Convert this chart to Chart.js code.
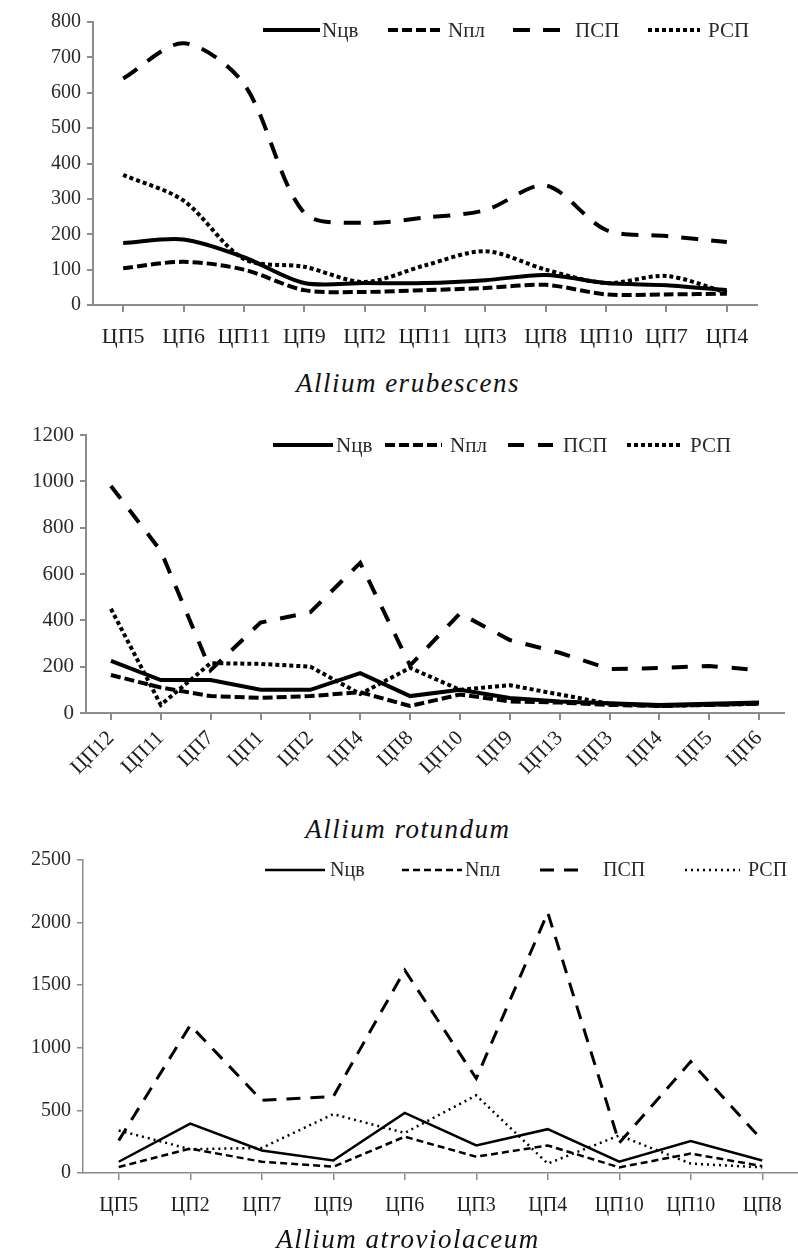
<!DOCTYPE html>
<html>
<head>
<meta charset="utf-8">
<script src="https://cdn.jsdelivr.net/npm/chart.js@4"></script>
<style>
    body { margin: 0; background: #fff; width: 798px; height: 1257px; position: relative; overflow: hidden; }
    .box { position: absolute; left: 0; width: 798px; }
    .species {
        position: absolute; left: 0; width: 816px; text-align: center;
        font-family: "Liberation Serif", "DejaVu Serif", serif; font-style: italic;
        font-size: 27px; letter-spacing: 1.5px; color: #111;
    }
</style>
</head>
<body>

<div class="box" style="top:0;height:360px"><canvas id="chart1"></canvas></div>
<div class="species" style="top:368px">Allium erubescens</div>

<div class="box" style="top:400px;height:410px"><canvas id="chart2"></canvas></div>
<div class="species" style="top:814px">Allium rotundum</div>

<div class="box" style="top:840px;height:390px"><canvas id="chart3"></canvas></div>
<div class="species" style="top:1224px">Allium atroviolaceum</div>

<script>
const seriesNames = ["Nцв", "Nпл", "ПСП", "РСП"];

// Allium erubescens
const labels1 = ["ЦП5", "ЦП6", "ЦП11", "ЦП9", "ЦП2", "ЦП11", "ЦП3", "ЦП8", "ЦП10", "ЦП7", "ЦП4"];
const ncv1 = [175, 185, 135, 62, 62, 62, 70, 85, 62, 56, 42];
const npl1 = [104, 122, 100, 42, 37, 42, 48, 57, 30, 30, 32];
const psp1 = [640, 740, 625, 260, 232, 247, 268, 338, 212, 195, 178];
const rsp1 = [368, 295, 130, 108, 65, 112, 152, 100, 62, 82, 35];
const yTicks1 = { min: 0, max: 800, step: 100 };

// Allium rotundum
const labels2 = ["ЦП12", "ЦП11", "ЦП7", "ЦП1", "ЦП2", "ЦП4", "ЦП8", "ЦП10", "ЦП9", "ЦП13", "ЦП3", "ЦП4", "ЦП5", "ЦП6"];
const ncv2 = [225, 142, 142, 100, 100, 172, 73, 100, 65, 50, 42, 35, 40, 45];
const npl2 = [164, 110, 73, 65, 73, 90, 30, 80, 50, 45, 35, 30, 35, 40];
const psp2 = [980, 700, 185, 390, 435, 648, 205, 430, 315, 260, 190, 194, 203, 185];
const rsp2 = [450, 35, 215, 212, 200, 82, 195, 100, 120, 80, 40, 30, 35, 40];
const yTicks2 = { min: 0, max: 1200, step: 200 };

// Allium atroviolaceum
const labels3 = ["ЦП5", "ЦП2", "ЦП7", "ЦП9", "ЦП6", "ЦП3", "ЦП4", "ЦП10", "ЦП10", "ЦП8"];
const ncv3 = [90, 395, 180, 100, 480, 220, 350, 90, 255, 100];
const npl3 = [48, 195, 90, 50, 290, 130, 220, 45, 155, 55];
const psp3 = [260, 1180, 580, 610, 1620, 755, 2080, 240, 890, 260];
const rsp3 = [340, 190, 200, 470, 320, 620, 75, 300, 75, 45];
const yTicks3 = { min: 0, max: 2500, step: 500 };

const SERIF = "'Liberation Serif', 'DejaVu Serif', serif";

// draws the legend inside the plot, with the same dash as each line
const insideLegend = {
    id: "insideLegend",
    afterDraw(chart, args, opts) {
        const ctx = chart.ctx;
        ctx.save();
        ctx.font = opts.size + "px " + SERIF;
        ctx.textBaseline = "middle";
        chart.data.datasets.forEach((ds, i) => {
            const slot = opts.slots[i];
            ctx.beginPath();
            ctx.setLineDash(ds.borderDash || []);
            ctx.lineWidth = ds.borderWidth;
            ctx.strokeStyle = ds.borderColor;
            ctx.moveTo(slot[0], opts.y);
            ctx.lineTo(slot[1], opts.y);
            ctx.stroke();
            ctx.setLineDash([]);
            ctx.fillStyle = "#2a2a2a";
            ctx.fillText(ds.label, slot[2], opts.y + 1);
        });
        ctx.restore();
    }
};

function makeChart(id, labels, series, yTicks, look) {

    const datasets = series.map((values, i) => ({
        label: seriesNames[i],
        data: values,
        borderColor: "#000",
        backgroundColor: "#000",
        borderWidth: look.widths[i],
        borderDash: look.dashes[i],
        borderCapStyle: "butt",
        pointRadius: 0,
        fill: false,
        tension: look.tension
    }));

    return new Chart(document.getElementById(id), {
        type: "line",
        data: { labels: labels, datasets: datasets },
        plugins: [insideLegend],
        options: {
            responsive: true,
            maintainAspectRatio: false,
            animation: false,
            layout: { padding: { top: look.top, right: look.right, left: 0, bottom: 0 } },
            plugins: {
                legend: { display: false },
                tooltip: { enabled: false },
                insideLegend: look.legend
            },
            scales: {
                x: {
                    offset: true,
                    border: { color: "#8c8c8c", width: look.axisWidth },
                    grid: { drawOnChartArea: false, color: "#8c8c8c", lineWidth: look.axisWidth, tickLength: 7 },
                    ticks: {
                        color: "#1e1e1e",
                        font: { family: SERIF, size: look.xSize },
                        padding: look.xPad,
                        autoSkip: false,
                        minRotation: look.rotation,
                        maxRotation: look.rotation
                    },
                    afterFit: s => { s.height = look.xHeight; }
                },
                y: {
                    min: yTicks.min,
                    max: yTicks.max,
                    border: { color: "#8c8c8c", width: look.axisWidth },
                    grid: { drawOnChartArea: false, color: "#8c8c8c", lineWidth: look.axisWidth, tickLength: 6 },
                    ticks: {
                        stepSize: yTicks.step,
                        color: "#2a2a2a",
                        font: { family: SERIF, size: look.ySize },
                        padding: 6,
                        callback: value => String(value)
                    },
                    afterFit: s => { s.width = look.yWidth; }
                }
            }
        }
    });
}

makeChart("chart1", labels1, [ncv1, npl1, psp1, rsp1], yTicks1, {
    widths: [4, 4, 4, 4],
    dashes: [[], [10, 4], [17, 13], [4, 3]],
    tension: 0.3,
    top: 22, right: 41,
    yWidth: 93, xHeight: 55,
    xSize: 22, ySize: 20, xPad: 12, rotation: 0,
    axisWidth: 2,
    legend: { y: 30, size: 21, slots: [[263, 320, 322], [388, 443, 448], [513, 565, 575], [648, 700, 708]] }
});

makeChart("chart2", labels2, [ncv2, npl2, psp2, rsp2], yTicks2, {
    widths: [4, 4, 4, 4],
    dashes: [[], [10, 4], [16, 14], [4, 3]],
    tension: 0,
    top: 35, right: 14,
    yWidth: 86, xHeight: 97,
    xSize: 21, ySize: 21, xPad: 6, rotation: 45,
    axisWidth: 2,
    legend: { y: 45, size: 21, slots: [[273, 333, 336], [385, 442, 450], [508, 553, 563], [627, 683, 690]] }
});

makeChart("chart3", labels3, [ncv3, npl3, psp3, rsp3], yTicks3, {
    widths: [2.5, 2.5, 3, 2.5],
    dashes: [[], [7, 4], [14, 10], [2, 4]],
    tension: 0,
    top: 20, right: 0,
    yWidth: 83, xHeight: 57,
    xSize: 20, ySize: 20, xPad: 14, rotation: 0,
    axisWidth: 1.5,
    legend: { y: 30, size: 20, slots: [[265, 325, 330], [402, 462, 465], [540, 585, 603], [685, 740, 748]] }
});
</script>
</body>
</html>
